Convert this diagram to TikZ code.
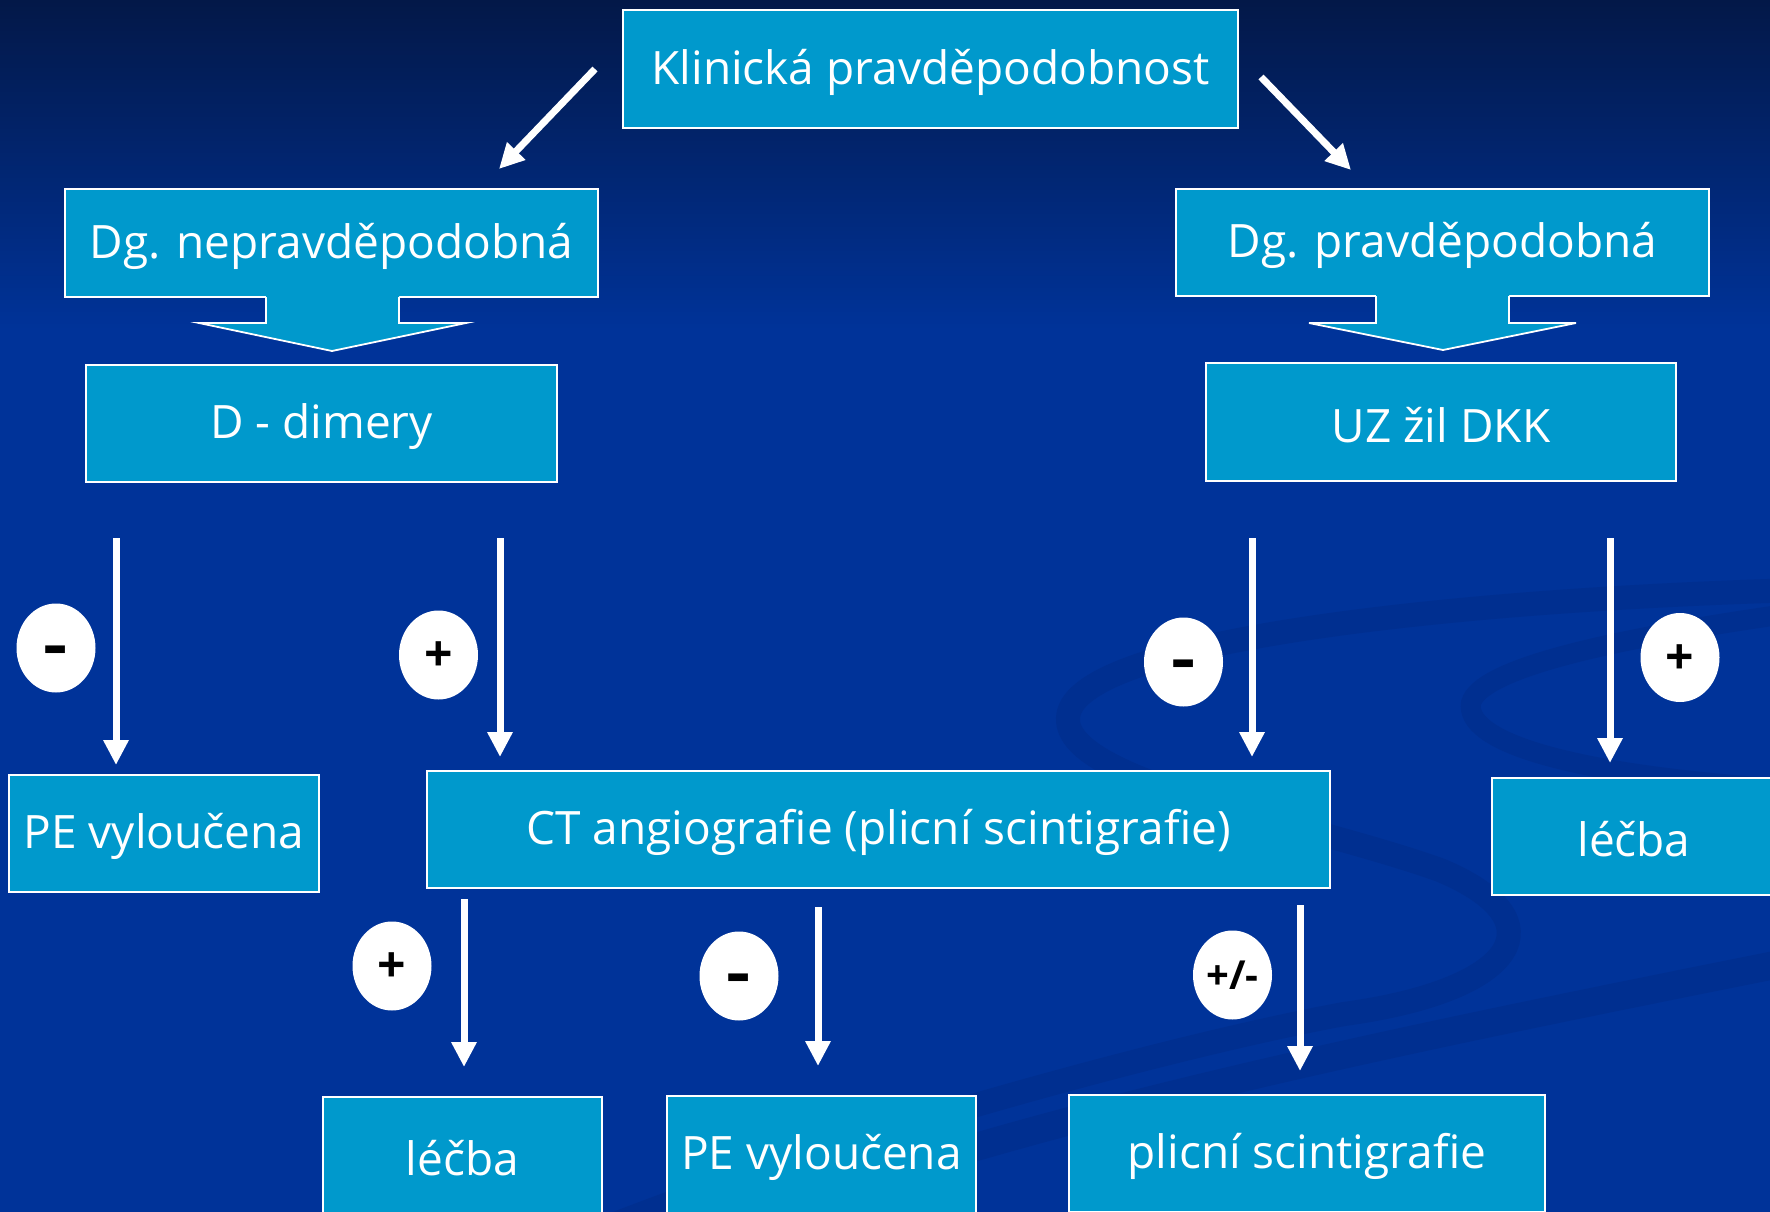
\documentclass[tikz,border=0pt]{standalone}
\usepackage{fontspec}
\setmainfont{Open Sans}
\usetikzlibrary{arrows.meta,shapes.geometric}
\definecolor{boxc}{RGB}{0,153,204}
\definecolor{bgtop}{RGB}{3,24,72}
\definecolor{bgmain}{RGB}{0,51,153}
\definecolor{swirlc}{RGB}{0,47,144}
\newcommand{\minussign}{\smash{\raisebox{-0.36em}{\scalebox{1.5}[1.25]{-}}}}
\newcommand{\plussign}{\smash{\raisebox{-0.33em}{+}}}
\begin{document}
\begin{tikzpicture}[x=1pt,y=-1pt,
  box/.style={draw=white, line width=1.8pt, fill=boxc, inner sep=0pt, text=white,
              font=\fontsize{46}{54}\selectfont},
  boxtext/.style={yshift=-3pt},
  sign/.style={ellipse, fill=white, minimum width=79pt, minimum height=89pt, inner sep=0pt,
               text=black, font=\fontsize{50}{56}\selectfont\bfseries},
  arr/.style={draw=white, line width=7pt, -{Triangle[width=24pt,length=25pt]}},
  blockarrow/.style={draw=white, line width=1.8pt, line join=miter}]
\clip (0,0) rectangle (1770,1212);
% background
\fill[bgmain] (0,0) rectangle (1770,1212);
\shade[top color=bgtop, bottom color=bgmain] (0,0) rectangle (1770,330);
% faint swirls
\draw[swirlc, line width=24pt, line cap=round]
  (1800,590) .. controls (1450,600) and (1090,640) .. (1069,712)
  .. controls (1050,780) and (1300,820) .. (1440,870)
  .. controls (1560,920) and (1520,990) .. (1344,1014)
  .. controls (1150,1050) and (800,1150) .. (600,1230);
\draw[swirlc, line width=20pt]
  (1800,612) .. controls (1600,640) and (1480,670) .. (1471,703)
  .. controls (1465,740) and (1560,775) .. (1800,790);
\draw[swirlc, line width=28pt]
  (700,1240) .. controls (1000,1120) and (1400,1040) .. (1800,960);
% boxes
\node[box, minimum width=615pt, minimum height=118pt] (top) at (930.5,69) {};
\node[box, minimum width=533pt, minimum height=108pt] (dgn) at (331.5,243) {};
\node[box, minimum width=533pt, minimum height=107pt] (dgp) at (1442.5,242.5) {};
\node[box, minimum width=471pt, minimum height=117pt] (ddim) at (321.5,423.5) {};
\node[box, minimum width=470pt, minimum height=118pt] (uz) at (1441,422) {};
\node[box, minimum width=310pt, minimum height=117pt] (pe1) at (164,833.5) {};
\node[box, minimum width=903pt, minimum height=117pt] (ct) at (878.5,829.5) {};
\node[box, minimum width=284pt, minimum height=117pt] (lecba1) at (1634,836.5) {};
\node[box, minimum width=279pt, minimum height=117pt] (lecba2) at (462.5,1155.5) {};
\node[box, minimum width=309pt, minimum height=117pt] (pe2) at (821.5,1154.5) {};
\node[box, minimum width=476pt, minimum height=117pt] (plic) at (1307,1153.5) {};
% box texts
\node[box, draw=none, fill=none, boxtext] at (top.center) {Klinická pravděpodobnost};
\node[box, draw=none, fill=none, boxtext] at (dgn.center) {Dg. nepravděpodobná};
\node[box, draw=none, fill=none, boxtext] at (dgp.center) {Dg. pravděpodobná};
\node[box, draw=none, fill=none, boxtext] at (ddim.center) {D - dimery};
\node[box, draw=none, fill=none, boxtext] at (uz.center) {UZ žil DKK};
\node[box, draw=none, fill=none, boxtext] at (pe1.center) {PE vyloučena};
\node[box, draw=none, fill=none, boxtext] at (ct.center) {CT angiografie (plicní scintigrafie)};
\node[box, draw=none, fill=none, boxtext] at (lecba1.center) {léčba};
\node[box, draw=none, fill=none, boxtext] at (lecba2.center) {léčba};
\node[box, draw=none, fill=none, boxtext] at (pe2.center) {PE vyloučena};
\node[box, draw=none, fill=none, boxtext] at (plic.center) {plicní scintigrafie};
% block arrows
\fill[boxc] (266,294) -- (266,323) -- (199,323) -- (332,351) -- (466,323) -- (399,323) -- (399,294) -- cycle;
\draw[blockarrow] (266,297) -- (266,323) -- (199,323) -- (332,351) -- (466,323) -- (399,323) -- (399,297);
\fill[boxc] (1376,293) -- (1376,323) -- (1309,323) -- (1443,350) -- (1576,323) -- (1509,323) -- (1509,293) -- cycle;
\draw[blockarrow] (1376,296) -- (1376,323) -- (1309,323) -- (1443,350) -- (1576,323) -- (1509,323) -- (1509,296);
% arrow end points
\coordinate (d1s) at (595,69);   \coordinate (d1e) at (499,169);
\coordinate (d2s) at (1261,77);  \coordinate (d2e) at (1351,170);
\coordinate (a1s) at (116,538);  \coordinate (a1e) at (116,765);
\coordinate (a2s) at (500,538);  \coordinate (a2e) at (500,757);
\coordinate (a3s) at (1252,538); \coordinate (a3e) at (1252,757);
\coordinate (a4s) at (1610,538); \coordinate (a4e) at (1610,763);
\coordinate (b1s) at (464,899);  \coordinate (b1e) at (464,1067);
\coordinate (b2s) at (818,907);  \coordinate (b2e) at (818,1066);
\coordinate (b3s) at (1300,905); \coordinate (b3e) at (1300,1071);
\draw[arr] (d1s) -- (d1e);
\draw[arr] (d2s) -- (d2e);
\draw[arr] (a1s) -- (a1e);
\draw[arr] (a2s) -- (a2e);
\draw[arr] (a3s) -- (a3e);
\draw[arr] (a4s) -- (a4e);
\draw[arr] (b1s) -- (b1e);
\draw[arr] (b2s) -- (b2e);
\draw[arr] (b3s) -- (b3e);
% signs
\node[sign] (s1) at (56,648) {\minussign};
\node[sign] (s2) at (438.5,655) {\plussign};
\node[sign] (s3) at (1183.5,662) {\minussign};
\node[sign] (s4) at (1680,657.5) {\plussign};
\node[sign] (s5) at (392,966) {\plussign};
\node[sign] (s6) at (739,976) {\minussign};
\node[sign, font=\fontsize{40}{46}\selectfont\bfseries] (s7) at (1232.5,975) {+/-};
\end{tikzpicture}
\end{document}
